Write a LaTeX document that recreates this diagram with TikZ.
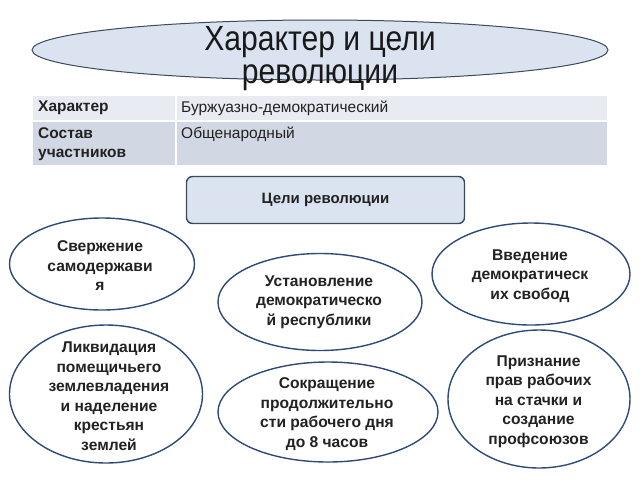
\documentclass[tikz,border=0pt]{standalone}
\usepackage{fontspec}
\setmainfont{Liberation Sans}
\newfontfamily\titlefont[FakeStretch=0.86]{Liberation Sans}
\usetikzlibrary{shapes.geometric}
\definecolor{titlefill}{HTML}{DAE3EF}
\definecolor{titleline}{HTML}{3C4A5C}
\definecolor{rowone}{HTML}{E8EBF1}
\definecolor{rowtwo}{HTML}{D2D8E3}
\definecolor{goalline}{HTML}{2E4A78}
\definecolor{inktext}{HTML}{222222}
\tikzset{
  bigoval/.style={ellipse, draw=titleline, fill=titlefill, line width=1pt, inner sep=0pt},
  cell/.style={rectangle, anchor=north west, inner sep=0pt},
  celltext/.style={anchor=west, inner sep=0pt, text=inktext, font=\fontsize{15.5}{19.5}\selectfont},
  headtext/.style={celltext, font=\fontsize{15.5}{19.5}\selectfont\bfseries},
  goalbox/.style={rectangle, rounded corners=6pt, draw=titleline, fill=titlefill, line width=1.4pt, inner sep=0pt},
  goal/.style={ellipse, draw=goalline, line width=1.4pt, fill=white, inner sep=0pt},
  goaltext/.style={align=center, text=inktext, inner sep=0pt, font=\fontsize{15.6}{19.5}\selectfont\bfseries}
}
\begin{document}
\begin{tikzpicture}[x=1pt, y=-1pt]
    \useasboundingbox[fill=white] (0,0) rectangle (640,480);

    \node[bigoval, minimum width=576pt, minimum height=60pt] (oval) at (320,50) {};
    \node[align=center, inner sep=0pt, text=black!90, font=\titlefont\fontsize{35}{33}\selectfont] 
        (title) at (320,59) {Характер и цели\\революции};

    \node[cell, fill=rowone, minimum width=142pt, minimum height=24pt] (c11) at (33,96) {};
    \node[cell, fill=rowone, minimum width=430pt, minimum height=24pt] (c12) at (177,96) {};
    \node[cell, fill=rowtwo, minimum width=142pt, minimum height=43pt] (c21) at (33,122) {};
    \node[cell, fill=rowtwo, minimum width=430pt, minimum height=43pt] (c22) at (177,122) {};
    \node[headtext] (t11) at (38,108) {Характер};
    \node[celltext] (t12) at (181,108) {Буржуазно-демократический};
    \node[headtext, anchor=north west, align=left] (t21) at (38,127) {Состав\\участников};
    \node[celltext, anchor=north west] (t22) at (181,127) {Общенародный};

    \node[goalbox, minimum width=278pt, minimum height=47pt, text=inktext,
        font=\fontsize{15}{18}\selectfont\bfseries] (aims) at (325.5,200) {Цели революции};

    \node[goal, minimum width=185pt, minimum height=92pt] (g1) at (102,264) {};
    \node[goal, minimum width=204pt, minimum height=97pt] (g2) at (320,302) {};
    \node[goal, minimum width=198pt, minimum height=102pt] (g3) at (531,274) {};
    \node[goal, minimum width=193pt, minimum height=138pt] (g4) at (106,394) {};
    \node[goal, minimum width=220pt, minimum height=100pt] (g5) at (328,412) {};
    \node[goal, minimum width=182pt, minimum height=138pt] (g6) at (539,399) {};

    \node[goaltext] (g1t) at (100,266) {Свержение\\самодержави\\я};
    \node[goaltext] (g2t) at (319,302) {Установление\\демократическо\\й республики};
    \node[goaltext] (g3t) at (530,276) {Введение\\демократическ\\их свобод};
    \node[goaltext] (g4t) at (109,396) {Ликвидация\\помещичьего\\землевладения\\и наделение\\крестьян\\землей};
    \node[goaltext] (g5t) at (327,414) {Сокращение\\продолжительно\\сти рабочего дня\\до 8 часов};
    \node[goaltext] (g6t) at (538.5,401.5) {Признание\\прав рабочих\\на стачки  и\\создание\\профсоюзов};
\end{tikzpicture}
\end{document}
